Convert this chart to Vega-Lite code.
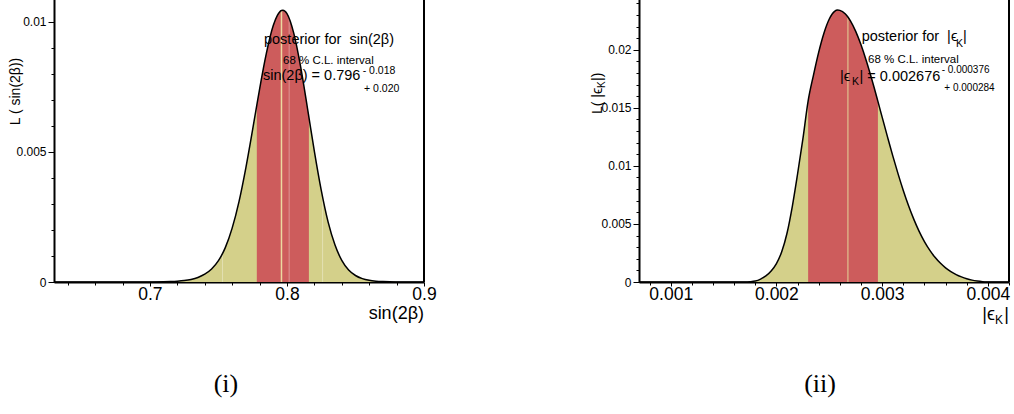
{
  "$schema": "https://vega.github.io/schema/vega-lite/v6.json",
  "background": "white",
  "padding": {"left": 8, "top": -2, "right": 0, "bottom": 0},
  "bounds": "flush",
  "spacing": 215,
  "config": {
    "view": {"stroke": null},
    "font": "Liberation Sans",
    "text": {"font": "Liberation Sans", "color": "black", "align": "left", "baseline": "middle"},
    "axis": {"domainColor": "black", "domainWidth": 2, "tickColor": "black", "tickWidth": 1, "labelColor": "black", "grid": false, "labelFont": "Liberation Sans", "labelFlush": false, "labelOverlap": false}
  },
  "datasets": {
    "sin2b": [
      {"x": 0.63, "L": 0}, {"x": 0.69, "L": 0}, {"x": 0.7, "L": 0.000002}, {"x": 0.71, "L": 0.000008},
      {"x": 0.715, "L": 0.000016}, {"x": 0.72, "L": 0.00003}, {"x": 0.725, "L": 0.000055}, {"x": 0.73, "L": 0.0001},
      {"x": 0.735, "L": 0.000175}, {"x": 0.74, "L": 0.0003}, {"x": 0.745, "L": 0.0005}, {"x": 0.75, "L": 0.00082},
      {"x": 0.755, "L": 0.00132}, {"x": 0.76, "L": 0.00207}, {"x": 0.765, "L": 0.00309}, {"x": 0.77, "L": 0.00439},
      {"x": 0.775, "L": 0.005875}, {"x": 0.778, "L": 0.0068}, {"x": 0.78, "L": 0.00741}, {"x": 0.785, "L": 0.0088},
      {"x": 0.79, "L": 0.00986}, {"x": 0.793, "L": 0.01025}, {"x": 0.796, "L": 0.01044}, {"x": 0.797, "L": 0.01045},
      {"x": 0.8, "L": 0.01032}, {"x": 0.805, "L": 0.00956}, {"x": 0.81, "L": 0.00827}, {"x": 0.815, "L": 0.00667},
      {"x": 0.816, "L": 0.00634}, {"x": 0.82, "L": 0.00502}, {"x": 0.825, "L": 0.00353}, {"x": 0.83, "L": 0.00231},
      {"x": 0.835, "L": 0.00143}, {"x": 0.84, "L": 0.00083}, {"x": 0.845, "L": 0.00046}, {"x": 0.85, "L": 0.00025},
      {"x": 0.855, "L": 0.00013}, {"x": 0.86, "L": 0.000065}, {"x": 0.865, "L": 0.000032}, {"x": 0.87, "L": 0.000015},
      {"x": 0.875, "L": 0.000006}, {"x": 0.88, "L": 0.000002}, {"x": 0.885, "L": 0}, {"x": 0.9, "L": 0}
    ],
    "epsK": [
      {"x": 0.0007, "L": 0}, {"x": 0.0017, "L": 0}, {"x": 0.00175, "L": 0.00002}, {"x": 0.0018, "L": 0.00008},
      {"x": 0.00185, "L": 0.00025}, {"x": 0.0019, "L": 0.00052}, {"x": 0.00195, "L": 0.00095}, {"x": 0.002, "L": 0.00159},
      {"x": 0.00205, "L": 0.0026}, {"x": 0.0021, "L": 0.0042}, {"x": 0.00215, "L": 0.0065}, {"x": 0.0022, "L": 0.0093},
      {"x": 0.00225, "L": 0.0123}, {"x": 0.0023, "L": 0.0156}, {"x": 0.00235, "L": 0.0178}, {"x": 0.0024, "L": 0.0198},
      {"x": 0.00245, "L": 0.02145}, {"x": 0.0025, "L": 0.02265}, {"x": 0.00255, "L": 0.02331}, {"x": 0.00258, "L": 0.02342},
      {"x": 0.0026, "L": 0.02339}, {"x": 0.00265, "L": 0.0231}, {"x": 0.002676, "L": 0.02282}, {"x": 0.0027, "L": 0.02248},
      {"x": 0.00275, "L": 0.02158}, {"x": 0.0028, "L": 0.02042}, {"x": 0.00285, "L": 0.01905}, {"x": 0.0029, "L": 0.01752},
      {"x": 0.00295, "L": 0.01589}, {"x": 0.00296, "L": 0.01555}, {"x": 0.003, "L": 0.0142}, {"x": 0.00305, "L": 0.01252},
      {"x": 0.0031, "L": 0.01088}, {"x": 0.00315, "L": 0.00933}, {"x": 0.0032, "L": 0.00788}, {"x": 0.00325, "L": 0.00656},
      {"x": 0.0033, "L": 0.00539}, {"x": 0.00335, "L": 0.00436}, {"x": 0.0034, "L": 0.00348}, {"x": 0.00345, "L": 0.00274},
      {"x": 0.0035, "L": 0.00213}, {"x": 0.00355, "L": 0.00163}, {"x": 0.0036, "L": 0.00122}, {"x": 0.00365, "L": 0.0009},
      {"x": 0.0037, "L": 0.00064}, {"x": 0.00375, "L": 0.00044}, {"x": 0.0038, "L": 0.00028}, {"x": 0.00385, "L": 0.00016},
      {"x": 0.0039, "L": 0.00008}, {"x": 0.00395, "L": 0.00003}, {"x": 0.004, "L": 0.00001}, {"x": 0.0041, "L": 0},
      {"x": 0.0042, "L": 0}
    ]
  },
  "hconcat": [
    {
      "width": 370,
      "height": 283,
      "resolve": {"axis": {"x": "independent", "y": "independent"}},
      "layer": [
        {
          "layer": [
            {
              "data": {"name": "sin2b"},
              "mark": {"type": "area", "color": "#d4d08a", "interpolate": "monotone"},
              "encoding": {
                "x": {
                  "field": "x", "type": "quantitative",
                  "scale": {"domain": [0.63, 0.9], "nice": false, "zero": false},
                  "axis": {"title": null, "format": "~g", "orient": "bottom", "values": [0.7, 0.8, 0.9], "tickSize": 4, "labelFontSize": 17.5, "labelPadding": -1, "labelOverlap": false, "labelFlush": false}
                },
                "y": {
                  "field": "L", "type": "quantitative",
                  "scale": {"domain": [0, 0.01088], "nice": false},
                  "axis": {"title": null, "format": "~g", "orient": "left", "values": [0, 0.005, 0.01], "tickSize": 6, "labelFontSize": 12, "labelPadding": 2, "labelOverlap": false}
                }
              }
            },
            {
              "data": {"name": "sin2b"},
              "transform": [{"filter": "datum.x >= 0.778 && datum.x <= 0.816"}],
              "mark": {"type": "area", "color": "#cd5c5c", "interpolate": "monotone"},
              "encoding": {"x": {"field": "x", "type": "quantitative"}, "y": {"field": "L", "type": "quantitative"}}
            },
            {
              "data": {"values": [{}]},
              "mark": {"type": "rule", "color": "white", "opacity": 0.35, "strokeWidth": 1},
              "encoding": {"x": {"datum": 0.753}, "y": {"datum": 0}, "y2": {"datum": 0.00112}}
            },
            {
              "data": {"values": [{}]},
              "mark": {"type": "rule", "color": "white", "opacity": 0.35, "strokeWidth": 1},
              "encoding": {"x": {"datum": 0.8016}, "y": {"datum": 0}, "y2": {"datum": 0.01018}}
            },
            {
              "data": {"values": [{}]},
              "mark": {"type": "rule", "color": "white", "opacity": 0.35, "strokeWidth": 1},
              "encoding": {"x": {"datum": 0.826}, "y": {"datum": 0}, "y2": {"datum": 0.00328}}
            },
            {
              "data": {"values": [{}]},
              "mark": {"type": "rule", "color": "#ecd9a0", "strokeWidth": 1.5},
              "encoding": {"x": {"datum": 0.796}, "y": {"datum": 0}, "y2": {"datum": 0.01044}}
            },
            {
              "data": {"values": [{}]},
              "mark": {"type": "rule", "color": "black", "strokeWidth": 2},
              "encoding": {"x": {"datum": 0.9}, "y": {"datum": 0}, "y2": {"datum": 0.01088}}
            },
            {
              "data": {"values": [{}]},
              "mark": {"type": "text", "text": "posterior for \u00a0sin(2β)", "fontSize": 14.5},
              "encoding": {"x": {"datum": 0.78324}, "y": {"datum": 0.009315}}
            },
            {
              "data": {"values": [{}]},
              "mark": {"type": "text", "text": "68 % C.L. interval", "fontSize": 11.5},
              "encoding": {"x": {"datum": 0.79711}, "y": {"datum": 0.008508}}
            },
            {
              "data": {"values": [{}]},
              "mark": {"type": "text", "text": "sin(2β) = 0.796", "fontSize": 14.5},
              "encoding": {"x": {"datum": 0.78251}, "y": {"datum": 0.00792}}
            },
            {
              "data": {"values": [{}]},
              "mark": {"type": "text", "text": "- 0.018", "fontSize": 10.5},
              "encoding": {"x": {"datum": 0.85526}, "y": {"datum": 0.008123}}
            },
            {
              "data": {"values": [{}]},
              "mark": {"type": "text", "text": "+ 0.020", "fontSize": 10.5},
              "encoding": {"x": {"datum": 0.85621}, "y": {"datum": 0.00742}}
            },
            {
              "data": {"values": [{}]},
              "mark": {"type": "text", "text": "L ( sin(2β))", "fontSize": 14, "angle": 270, "align": "center"},
              "encoding": {"x": {"datum": 0.60227}, "y": {"datum": 0.007324}}
            },
            {
              "data": {"values": [{}]},
              "mark": {"type": "text", "text": "sin(2β)", "fontSize": 18, "align": "right"},
              "encoding": {"x": {"datum": 0.9}, "y": {"datum": -0.00123}}
            },
            {
              "data": {"values": [{}]},
              "mark": {"type": "text", "text": "(i)", "fontSize": 26, "font": "Liberation Serif", "align": "center"},
              "encoding": {"x": {"datum": 0.7555}, "y": {"datum": -0.003921}}
            }
          ]
        },
        {
          "data": {"name": "sin2b"},
          "mark": {"type": "line", "color": "black", "strokeWidth": 1.5, "interpolate": "monotone"},
          "encoding": {
            "x": {
              "field": "x", "type": "quantitative",
              "axis": {"title": null, "orient": "bottom", "labels": false, "domain": false, "tickSize": 3,
                       "values": [0.64, 0.66, 0.68, 0.72, 0.74, 0.76, 0.78, 0.82, 0.84, 0.86, 0.88]}
            },
            "y": {
              "field": "L", "type": "quantitative",
              "axis": {"title": null, "orient": "left", "labels": false, "domain": false, "tickSize": 3,
                       "values": [0.001, 0.002, 0.003, 0.004, 0.006, 0.007, 0.008, 0.009]}
            }
          }
        }
      ]
    },
    {
      "width": 370,
      "height": 283,
      "resolve": {"axis": {"x": "independent", "y": "independent"}},
      "layer": [
        {
          "layer": [
            {
              "data": {"name": "epsK"},
              "mark": {"type": "area", "color": "#d4d08a", "interpolate": "monotone"},
              "encoding": {
                "x": {
                  "field": "x", "type": "quantitative",
                  "scale": {"domain": [0.0007, 0.0042], "nice": false, "zero": false},
                  "axis": {"title": null, "format": "~g", "orient": "bottom", "values": [0.001, 0.002, 0.003, 0.004], "tickSize": 4, "labelFontSize": 17.5, "labelPadding": -1, "labelOverlap": false, "labelFlush": false}
                },
                "y": {
                  "field": "L", "type": "quantitative",
                  "scale": {"domain": [0, 0.02437], "nice": false},
                  "axis": {"title": null, "format": "~g", "orient": "left", "values": [0, 0.005, 0.01, 0.015, 0.02], "tickSize": 6, "labelFontSize": 12, "labelPadding": 2, "labelOverlap": false}
                }
              }
            },
            {
              "data": {"name": "epsK"},
              "transform": [{"filter": "datum.x >= 0.0023 && datum.x <= 0.00296"}],
              "mark": {"type": "area", "color": "#cd5c5c", "interpolate": "monotone"},
              "encoding": {"x": {"field": "x", "type": "quantitative"}, "y": {"field": "L", "type": "quantitative"}}
            },
            {
              "data": {"values": [{}]},
              "mark": {"type": "rule", "color": "#dcae84", "strokeWidth": 1.5},
              "encoding": {"x": {"datum": 0.002676}, "y": {"datum": 0}, "y2": {"datum": 0.02282}}
            },
            {
              "data": {"values": [{}]},
              "mark": {"type": "rule", "color": "black", "strokeWidth": 2},
              "encoding": {"x": {"datum": 0.0042}, "y": {"datum": 0}, "y2": {"datum": 0.02437}}
            },
            {
              "data": {"values": [{}]},
              "mark": {"type": "text", "text": "posterior for \u00a0|ϵ", "fontSize": 14.5},
              "encoding": {"x": {"datum": 0.0028066}, "y": {"datum": 0.021072}}
            },
            {
              "data": {"values": [{}]},
              "mark": {"type": "text", "text": "K", "fontSize": 10.5},
              "encoding": {"x": {"datum": 0.0036987}, "y": {"datum": 0.020495}}
            },
            {
              "data": {"values": [{}]},
              "mark": {"type": "text", "text": "|", "fontSize": 14.5},
              "encoding": {"x": {"datum": 0.0037649}, "y": {"datum": 0.021072}}
            },
            {
              "data": {"values": [{}]},
              "mark": {"type": "text", "text": "68 % C.L. interval", "fontSize": 11.5},
              "encoding": {"x": {"datum": 0.0028662}, "y": {"datum": 0.019117}}
            },
            {
              "data": {"values": [{}]},
              "mark": {"type": "text", "text": "|ϵ", "fontSize": 14.5},
              "encoding": {"x": {"datum": 0.0026014}, "y": {"datum": 0.017627}}
            },
            {
              "data": {"values": [{}]},
              "mark": {"type": "text", "text": "K", "fontSize": 10.5},
              "encoding": {"x": {"datum": 0.0027149}, "y": {"datum": 0.017197}}
            },
            {
              "data": {"values": [{}]},
              "mark": {"type": "text", "text": "| = 0.002676", "fontSize": 14.5},
              "encoding": {"x": {"datum": 0.0027858}, "y": {"datum": 0.017627}}
            },
            {
              "data": {"values": [{}]},
              "mark": {"type": "text", "text": "- 0.000376", "fontSize": 10},
              "encoding": {"x": {"datum": 0.0035634}, "y": {"datum": 0.018256}}
            },
            {
              "data": {"values": [{}]},
              "mark": {"type": "text", "text": "+ 0.000284", "fontSize": 10},
              "encoding": {"x": {"datum": 0.003588}, "y": {"datum": 0.01668}}
            },
            {
              "data": {"values": [{}]},
              "mark": {"type": "text", "text": "L( |ϵ", "fontSize": 14, "angle": 270},
              "encoding": {"x": {"datum": 0.0003122}, "y": {"datum": 0.014467}}
            },
            {
              "data": {"values": [{}]},
              "mark": {"type": "text", "text": "K", "fontSize": 10, "angle": 270, "dx": 26, "dy": 4},
              "encoding": {"x": {"datum": 0.0003122}, "y": {"datum": 0.014467}}
            },
            {
              "data": {"values": [{}]},
              "mark": {"type": "text", "text": "|)", "fontSize": 14, "angle": 270, "dx": 33},
              "encoding": {"x": {"datum": 0.0003122}, "y": {"datum": 0.014467}}
            },
            {
              "data": {"values": [{}]},
              "mark": {"type": "text", "text": "|", "fontSize": 18, "align": "right"},
              "encoding": {"x": {"datum": 0.0042}, "y": {"datum": -0.002842}}
            },
            {
              "data": {"values": [{}]},
              "mark": {"type": "text", "text": "K", "fontSize": 12, "align": "right", "dx": -6, "dy": 5},
              "encoding": {"x": {"datum": 0.0042}, "y": {"datum": -0.002842}}
            },
            {
              "data": {"values": [{}]},
              "mark": {"type": "text", "text": "|ϵ", "fontSize": 18, "align": "right", "dx": -14},
              "encoding": {"x": {"datum": 0.0042}, "y": {"datum": -0.002842}}
            },
            {
              "data": {"values": [{}]},
              "mark": {"type": "text", "text": "(ii)", "fontSize": 26, "font": "Liberation Serif", "align": "center"},
              "encoding": {"x": {"datum": 0.0024122}, "y": {"datum": -0.008784}}
            }
          ]
        },
        {
          "data": {"name": "epsK"},
          "mark": {"type": "line", "color": "black", "strokeWidth": 1.5, "interpolate": "monotone"},
          "encoding": {
            "x": {
              "field": "x", "type": "quantitative",
              "axis": {"title": null, "orient": "bottom", "labels": false, "domain": false, "tickSize": 3,
                       "values": [0.0008, 0.0012, 0.0014, 0.0016, 0.0018, 0.0022, 0.0024, 0.0026, 0.0028, 0.0032, 0.0034, 0.0036, 0.0038, 0.0042]}
            },
            "y": {
              "field": "L", "type": "quantitative",
              "axis": {"title": null, "orient": "left", "labels": false, "domain": false, "tickSize": 3,
                       "values": [0.001, 0.002, 0.003, 0.004, 0.006, 0.007, 0.008, 0.009, 0.011, 0.012, 0.013, 0.014, 0.016, 0.017, 0.018, 0.019, 0.021, 0.022, 0.023, 0.024]}
            }
          }
        }
      ]
    }
  ]
}
